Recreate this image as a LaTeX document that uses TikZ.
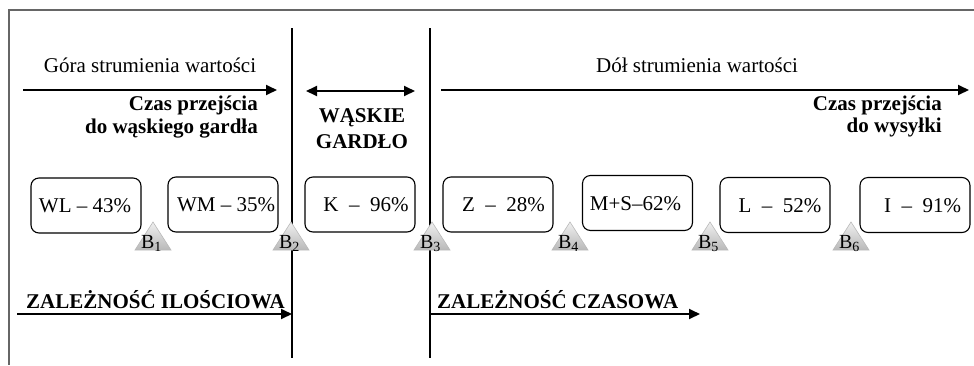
\documentclass[tikz,border=0pt]{standalone}
\usepackage{fontspec}
\setmainfont{Liberation Serif}
\usetikzlibrary{arrows.meta}
\begin{document}
\begin{tikzpicture}[x=1pt,y=-1pt,
  every node/.style={inner sep=0pt},
  lbl/.style={font=\fontsize{21}{25}\selectfont},
  bld/.style={font=\fontsize{21}{25}\selectfont\bfseries},
  blab/.style={font=\fontsize{20}{24}\selectfont, anchor=base},
  arr/.style={line width=1.8pt, -{Triangle[length=11pt,width=10pt]}},
  darr/.style={line width=1.8pt, {Triangle[length=11pt,width=10pt]}-{Triangle[length=11pt,width=10pt]}},
  vline/.style={line width=1.2pt},
  framel/.style={draw=gray!80!black, line width=2pt},
  box/.style={draw, line width=1.1pt, rounded corners=8pt, minimum width=110pt, minimum height=55pt},
  tri/.style={top color=gray!12, bottom color=gray!55, draw=gray!55, line width=0.6pt}
]
\useasboundingbox (0,0) rectangle (974,365);
% frame
\draw[framel] (974,10) -- (9,10) -- (9,365);
% vertical separators
\coordinate (l1t) at (292,28); \coordinate (l1b) at (292,358);
\coordinate (l2t) at (430,28); \coordinate (l2b) at (430,358);
\draw[vline] (l1t) -- (l1b);
\draw[vline] (l2t) -- (l2b);
% top texts and arrows
\node[lbl, anchor=base] (gora) at (150,72) {Góra strumienia wartości};
\coordinate (a1s) at (23,90); \coordinate (a1e) at (277,90);
\draw[arr] (a1s) -- (a1e);
\node[bld, anchor=base east] (cz1a) at (258,110) {Czas przejścia};
\node[bld, anchor=base east] (cz1b) at (258,133) {do wąskiego gardła};
\coordinate (a2s) at (306,91); \coordinate (a2e) at (415,91);
\draw[darr] (a2s) -- (a2e);
\node[bld, anchor=base] (wa) at (362,122) {WĄSKIE};
\node[bld, anchor=base] (ga) at (362,148) {GARDŁO};
\node[lbl, anchor=base] (dol) at (697,72) {Dół strumienia wartości};
\coordinate (a3s) at (441,90); \coordinate (a3e) at (969,90);
\draw[arr] (a3s) -- (a3e);
\node[bld, anchor=base east] (cz2a) at (942,110) {Czas przejścia};
\node[bld, anchor=base east] (cz2b) at (942,132) {do wysyłki};
% boxes
\node[box] (wl) at (86,205.5) {};
\node[lbl] (wlt) at (85,206) {WL – 43\%};
\node[box] (wm) at (223,204.5) {};
\node[lbl] (wmt) at (226,205) {WM – 35\%};
\node[box] (k) at (360,204.5) {};
\node[lbl] (kt) at (366,205) {K\ \ –\ \ 96\%};
\node[box] (z) at (498,204.5) {};
\node[lbl] (zt) at (503.5,205) {Z\ \ –\ \ 28\%};
\node[box] (ms) at (637.5,203) {};
\node[lbl] (mst) at (635.5,203.5) {M+S–62\%};
\node[box] (l) at (775,205) {};
\node[lbl] (lt) at (780,205.5) {L\ \ –\ \ 52\%};
\node[box] (i) at (915,205) {};
\node[lbl] (it) at (922.5,205.5) {I\ \ –\ \ 91\%};
% buffers
\foreach \cx/\n in {153/1,291/2,432/3,570/4,710/5,851/6}{
  \path[tri] (\cx,222) -- (\cx+18,250) -- (\cx-18,250) -- cycle;
  \node[blab] (b\n) at (\cx-1.5,248) {B\textsubscript{\n}};
}
% bottom
\node[bld, anchor=base west] (zil) at (26,308) {ZALEŻNOŚĆ ILOŚCIOWA};
\coordinate (a4s) at (17,314); \coordinate (a4e) at (292,314);
\draw[arr] (a4s) -- (a4e);
\node[bld, anchor=base west] (zcz) at (437,308) {ZALEŻNOŚĆ CZASOWA};
\coordinate (a5s) at (430,314); \coordinate (a5e) at (700,314);
\draw[arr] (a5s) -- (a5e);
\end{tikzpicture}
\end{document}
